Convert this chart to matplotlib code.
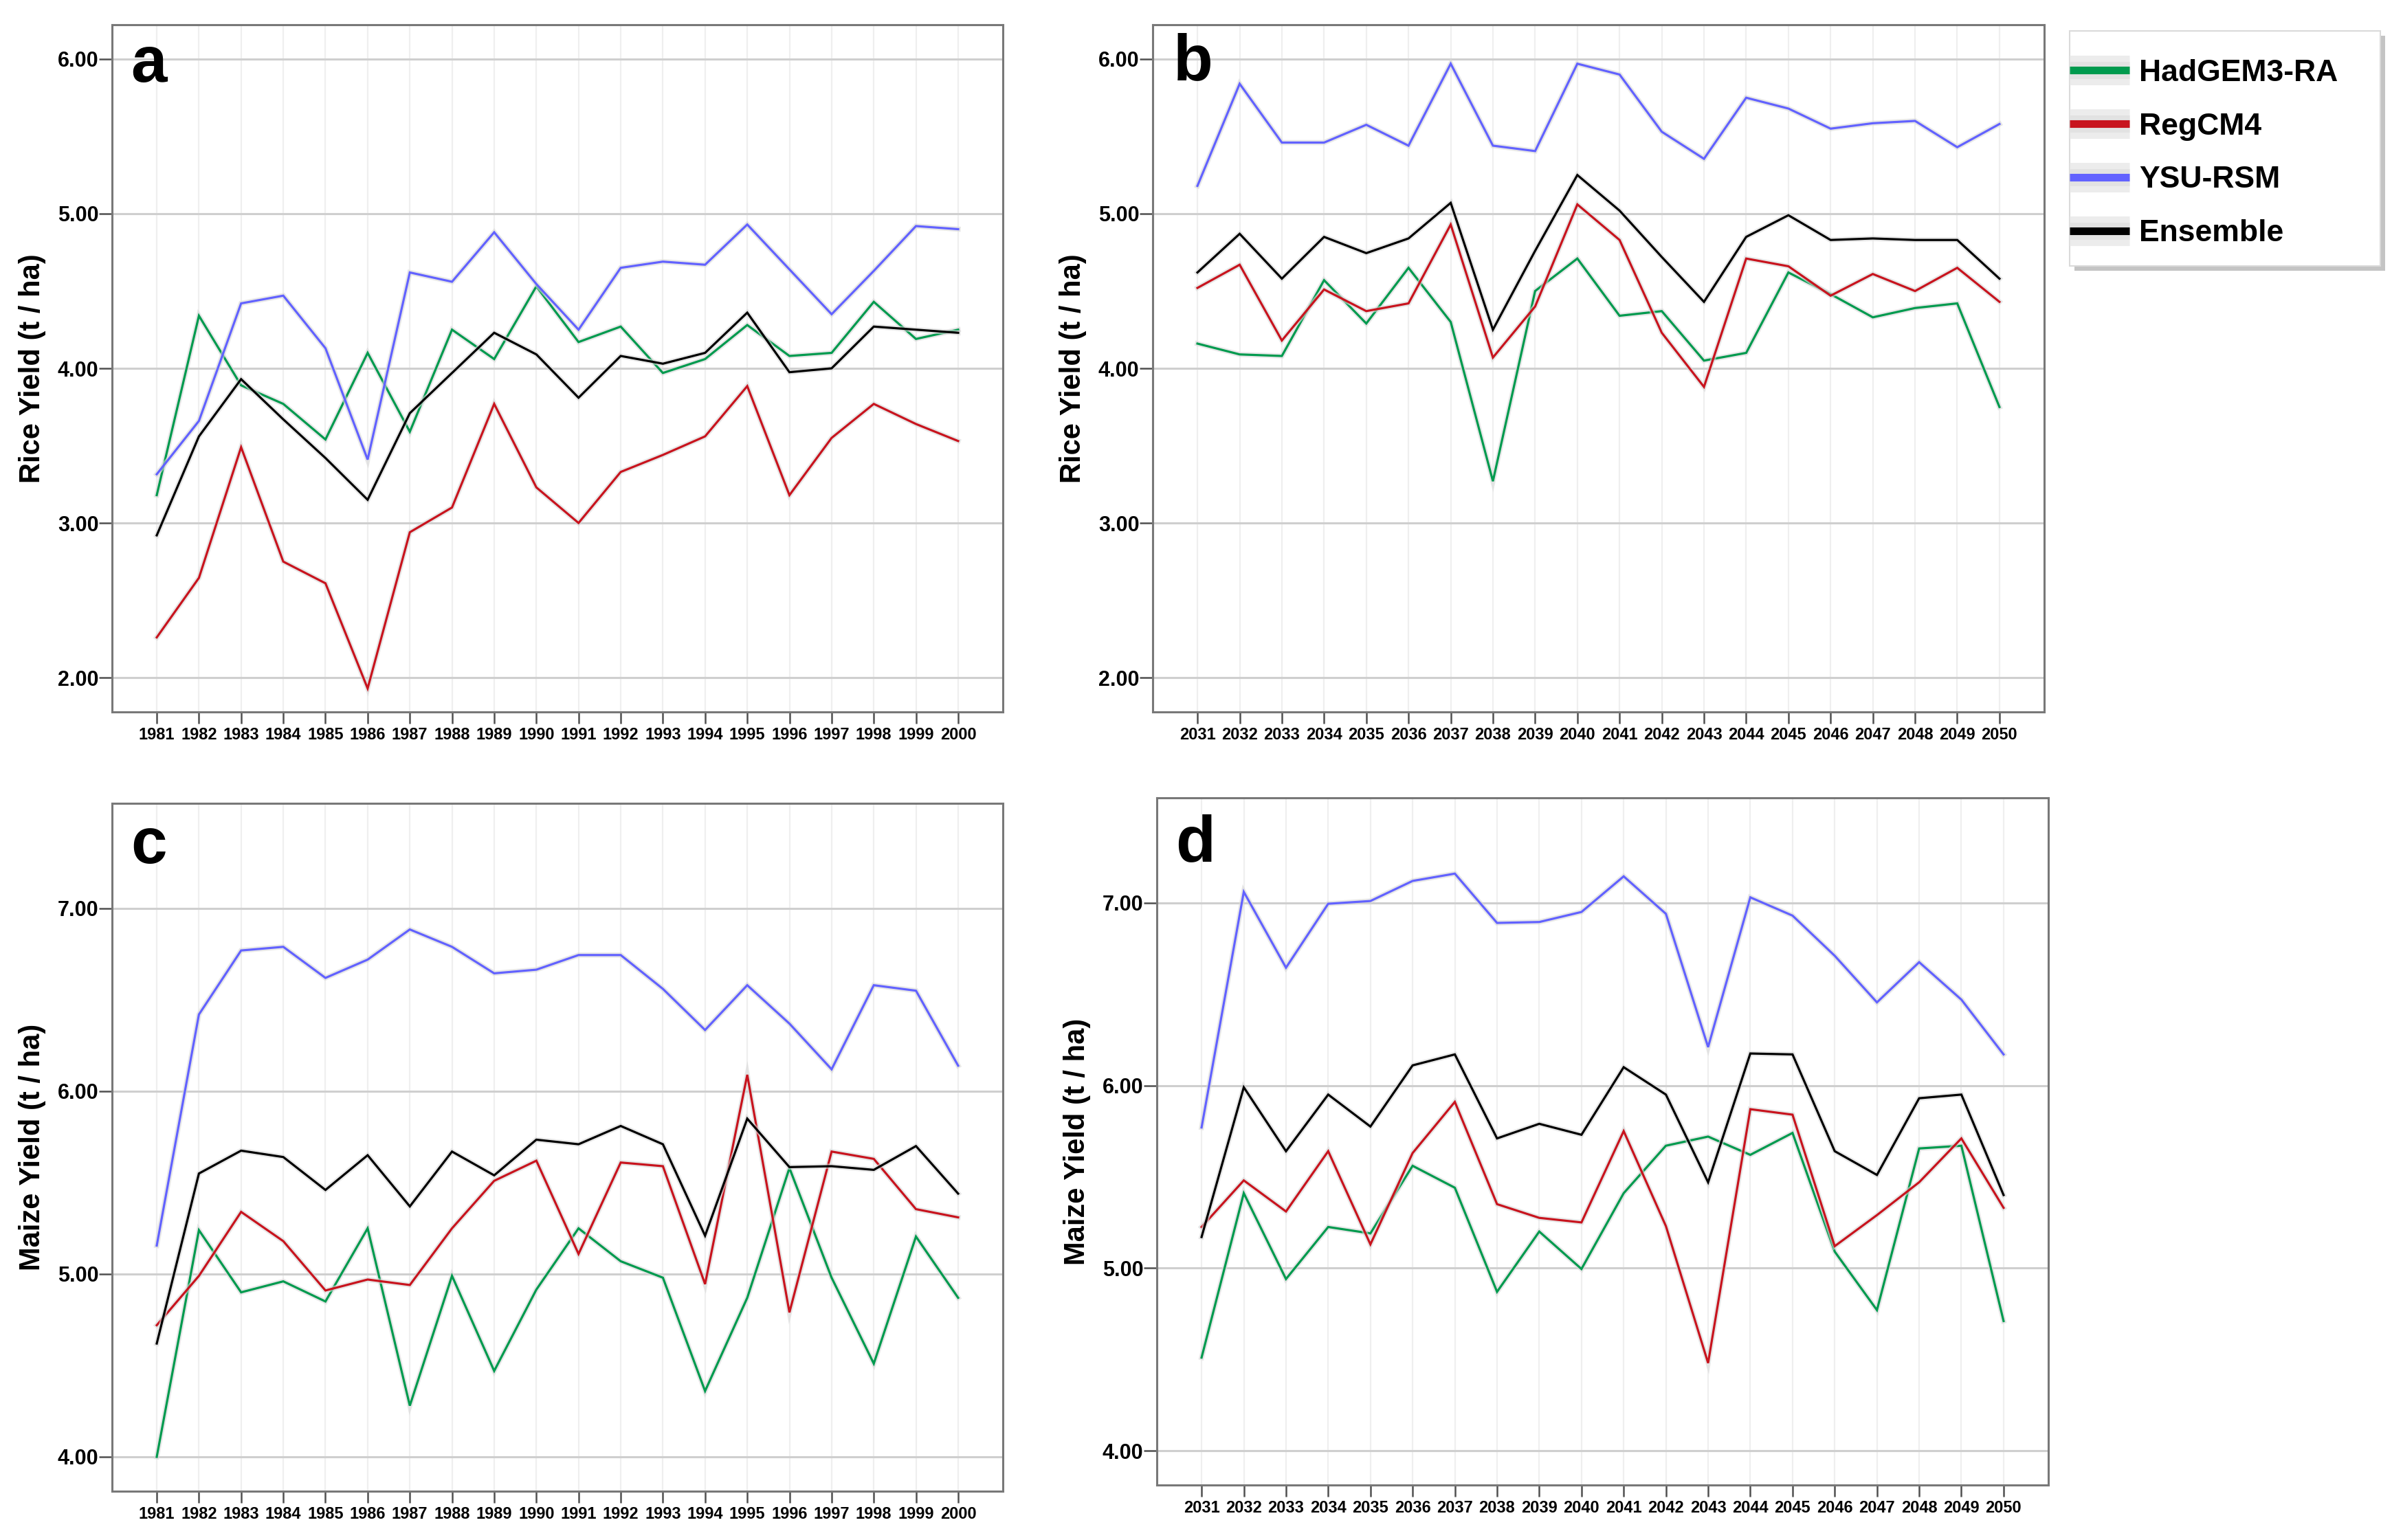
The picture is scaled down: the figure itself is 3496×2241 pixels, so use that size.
import matplotlib
matplotlib.use('Agg')
import matplotlib.pyplot as plt
import matplotlib.patheffects as pe
from matplotlib.lines import Line2D
from matplotlib.patches import Rectangle

plt.rcParams['font.family'] = ['Liberation Sans', 'DejaVu Sans']

# ---------------- data ----------------
years_hist = list(range(1981, 2001))
years_fut = list(range(2031, 2051))
series_names = ['HadGEM3-RA', 'RegCM4', 'YSU-RSM', 'Ensemble']
series_colors = ['#009a4e', '#c8141e', '#6262ff', '#000000']

panel_letters = ['a', 'b', 'c', 'd']
ylabels = ['Rice Yield (t / ha)', 'Rice Yield (t / ha)',
           'Maize Yield (t / ha)', 'Maize Yield (t / ha)']
yticks_rice = [2, 3, 4, 5, 6]
yticks_maize = [4, 5, 6, 7]

# (a) Rice, 1981-2000
rice_hist_hadgem = [3.18, 4.34, 3.89, 3.77, 3.54, 4.10, 3.59, 4.25, 4.06, 4.53,
                    4.17, 4.27, 3.97, 4.06, 4.28, 4.08, 4.10, 4.43, 4.19, 4.25]
rice_hist_regcm = [2.26, 2.645, 3.49, 2.75, 2.61, 1.93, 2.94, 3.10, 3.77, 3.23,
                   3.00, 3.33, 3.44, 3.56, 3.885, 3.18, 3.55, 3.77, 3.64, 3.53]
rice_hist_ysu = [3.315, 3.66, 4.42, 4.47, 4.13, 3.41, 4.62, 4.56, 4.88, 4.545,
                 4.25, 4.65, 4.69, 4.67, 4.93, 4.64, 4.35, 4.63, 4.92, 4.90]
rice_hist_ens = [2.92, 3.56, 3.93, 3.67, 3.42, 3.15, 3.71, 3.97, 4.23, 4.09,
                 3.81, 4.08, 4.03, 4.10, 4.36, 3.975, 4.00, 4.27, 4.25, 4.23]

# (b) Rice, 2031-2050
rice_fut_hadgem = [4.16, 4.09, 4.08, 4.57, 4.29, 4.65, 4.30, 3.27, 4.50, 4.71,
                   4.34, 4.37, 4.05, 4.10, 4.62, 4.48, 4.33, 4.39, 4.42, 3.75]
rice_fut_regcm = [4.52, 4.67, 4.18, 4.51, 4.37, 4.42, 4.93, 4.07, 4.40, 5.06,
                  4.83, 4.23, 3.88, 4.71, 4.66, 4.47, 4.61, 4.50, 4.65, 4.43]
rice_fut_ysu = [5.18, 5.84, 5.46, 5.46, 5.575, 5.44, 5.97, 5.44, 5.405, 5.97,
                5.90, 5.53, 5.355, 5.75, 5.68, 5.55, 5.585, 5.60, 5.43, 5.58]
rice_fut_ens = [4.62, 4.87, 4.58, 4.85, 4.745, 4.84, 5.07, 4.25, 4.76, 5.25,
                5.02, 4.72, 4.43, 4.85, 4.99, 4.83, 4.84, 4.83, 4.83, 4.58]

# (c) Maize, 1981-2000
maize_hist_hadgem = [4.00, 5.24, 4.90, 4.96, 4.85, 5.25, 4.28, 4.99, 4.47, 4.915,
                     5.25, 5.07, 4.98, 4.36, 4.87, 5.58, 4.98, 4.51, 5.205, 4.87]
maize_hist_regcm = [4.72, 4.99, 5.34, 5.18, 4.91, 4.97, 4.94, 5.25, 5.51, 5.62,
                    5.11, 5.61, 5.59, 4.945, 6.09, 4.79, 5.67, 5.63, 5.355, 5.31]
maize_hist_ysu = [5.156, 6.42, 6.77, 6.79, 6.62, 6.72, 6.885, 6.79, 6.645, 6.665,
                  6.745, 6.745, 6.56, 6.335, 6.58, 6.37, 6.12, 6.58, 6.55, 6.14]
maize_hist_ens = [4.62, 5.55, 5.675, 5.64, 5.46, 5.65, 5.37, 5.67, 5.54, 5.735,
                  5.71, 5.81, 5.71, 5.21, 5.85, 5.585, 5.59, 5.57, 5.70, 5.44]

# (d) Maize, 2031-2050
maize_fut_hadgem = [4.51, 5.41, 4.94, 5.225, 5.19, 5.56, 5.44, 4.87, 5.20, 4.995,
                    5.41, 5.67, 5.72, 5.62, 5.74, 5.09, 4.77, 5.655, 5.67, 4.71]
maize_fut_regcm = [5.225, 5.48, 5.31, 5.64, 5.13, 5.63, 5.91, 5.35, 5.275, 5.25,
                   5.75, 5.23, 4.48, 5.87, 5.84, 5.12, 5.29, 5.47, 5.71, 5.33]
maize_fut_ysu = [5.77, 7.06, 6.645, 6.995, 7.01, 7.12, 7.16, 6.89, 6.895, 6.95,
                 7.145, 6.94, 6.21, 7.03, 6.93, 6.71, 6.455, 6.675, 6.47, 6.17]
maize_fut_ens = [5.17, 5.99, 5.64, 5.95, 5.775, 6.11, 6.17, 5.71, 5.79, 5.73,
                 6.10, 5.95, 5.47, 6.175, 6.17, 5.64, 5.51, 5.93, 5.95, 5.40]

panel_years = [years_hist, years_fut, years_hist, years_fut]
panel_series = [
    [rice_hist_hadgem, rice_hist_regcm, rice_hist_ysu, rice_hist_ens],
    [rice_fut_hadgem, rice_fut_regcm, rice_fut_ysu, rice_fut_ens],
    [maize_hist_hadgem, maize_hist_regcm, maize_hist_ysu, maize_hist_ens],
    [maize_fut_hadgem, maize_fut_regcm, maize_fut_ysu, maize_fut_ens],
]
panel_yticks = [yticks_rice, yticks_rice, yticks_maize, yticks_maize]

# ---------------- layout (pixels) ----------------
W, H = 3496, 2241
DPI = 100
# left, right, top, bottom
panel_px = [(163, 1459, 36, 1036), (1677, 2974, 36, 1036),
            (163, 1459, 1169, 2170), (1683, 2980, 1161, 2161)]
panel_ylim = [(1.778, 6.222), (1.778, 6.222), (3.812, 7.575), (3.812, 7.575)]
letter_off = [(27, 83), (30, 80), (27, 87), (27, 92)]

fig = plt.figure(figsize=(W / DPI, H / DPI), dpi=DPI)
fig.patch.set_facecolor('white')

spine_col = '#787878'
halo = [pe.Stroke(linewidth=5.4, foreground='#d8d8d8', alpha=0.6), pe.Normal()]

for i in range(4):
    l, r, t, b = panel_px[i]
    ax = fig.add_axes([l / W, 1 - b / H, (r - l) / W, (b - t) / H])
    yrs = panel_years[i]
    ax.set_axisbelow(True)
    for vals, col in zip(panel_series[i], series_colors):
        ax.plot(yrs, vals, color=col, lw=2.3, solid_joinstyle='miter',
                path_effects=halo, zorder=3)
    ax.set_xlim(yrs[0] - 1.06, yrs[-1] + 1.06)
    ax.set_ylim(*panel_ylim[i])
    ax.set_xticks(yrs, [str(y) for y in yrs], fontsize=17, fontweight='bold')
    yt = panel_yticks[i]
    ax.set_yticks(yt, [f'{v:.2f}' for v in yt], fontsize=22, fontweight='bold')
    ax.tick_params(axis='x', length=12, width=1.8, color='#505050', pad=4)
    ax.tick_params(axis='y', length=13.5, width=1.8, color='#505050', pad=0.5)
    ax.grid(axis='y', color='#cfcfcf', lw=2.2)
    ax.grid(axis='x', color='#efefef', lw=1.6)
    for s in ax.spines.values():
        s.set_color(spine_col)
        s.set_linewidth(2.2)
    ax.set_ylabel(ylabels[i], fontsize=30, fontweight='bold')
    ax.yaxis.label.set_va('center')
    ax.yaxis.set_label_coords(-116 / (r - l), 0.5)
    dx, dy = letter_off[i]
    ax.text(dx / (r - l), 1 - dy / (b - t), panel_letters[i], transform=ax.transAxes,
            fontsize=68, fontweight='bold', va='baseline', ha='left', zorder=5)

# ---------------- legend ----------------
lx0, ly0, lx1, ly1 = 3011, 45, 3463, 387
shadow = Rectangle(((lx0 + 7) / W, 1 - (ly1 + 7) / H), (lx1 - lx0) / W, (ly1 - ly0) / H,
                   transform=fig.transFigure, facecolor='#c4c4c4', edgecolor='none', zorder=0)
box = Rectangle((lx0 / W, 1 - ly1 / H), (lx1 - lx0) / W, (ly1 - ly0) / H,
                transform=fig.transFigure, facecolor='white', edgecolor='#dadada',
                lw=1.5, zorder=1)
fig.patches.extend([shadow, box])

handles = []
for name, col in zip(series_names, series_colors):
    h = Line2D([0], [0], color=col, lw=8.0, solid_capstyle='butt',
               path_effects=[pe.Stroke(linewidth=31, foreground='#ececec', capstyle='butt'),
                             pe.Stroke(linewidth=18, foreground='#e2e2e2', capstyle='butt'),
                             pe.Normal()])
    handles.append(h)
leg = fig.legend(handles, series_names, loc='center left',
                 bbox_to_anchor=(lx0 / W, 1 - 223 / H), frameon=False,
                 prop={'size': 32, 'weight': 'bold'}, handlelength=1.96,
                 handletextpad=0.32, labelspacing=0.83, borderpad=0, borderaxespad=0)
leg.set_zorder(2)

fig.savefig('out.png', dpi=DPI, facecolor='white')
